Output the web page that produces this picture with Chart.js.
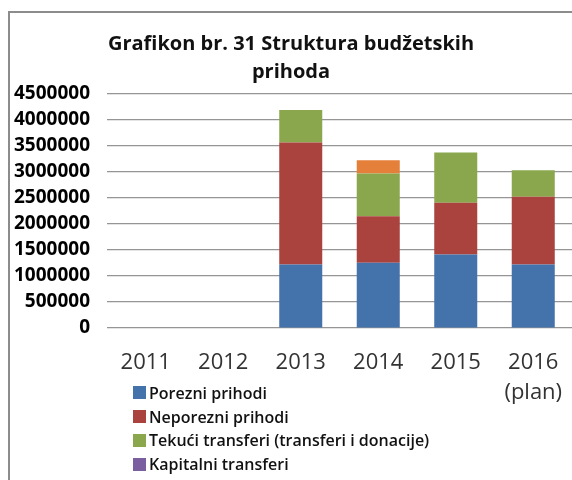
<!DOCTYPE html>
<html>
<head>
<meta charset="utf-8">
<script src="https://cdn.jsdelivr.net/npm/chart.js@4.4.1/dist/chart.umd.min.js"></script>
<style>
  body { margin: 0; background: #fff; width: 572px; height: 480px; overflow: hidden; position: relative; font-family: 'Open Sans', sans-serif; }
  #frame { position: absolute; left: 8px; top: 11px; width: 600px; height: 520px; border: 2px solid #8c8c8c; }
  #chart { position: absolute; left: 0; top: 0; }
  #legend { position: absolute; left: 133px; top: 381px; }
  .item { display: flex; align-items: center; height: 23.8px; font-size: 16px; font-weight: 600; color: #111; white-space: nowrap; }
  .box { width: 13px; height: 13px; margin-right: 3px; }
</style>
</head>
<body>
<div id="frame"></div>
<canvas id="chart" width="572" height="480"></canvas>
<div id="legend"></div>
<script>
// godine (kategorije)
const godine = ['2011', '2012', '2013', '2014', '2015', ['2016', '(plan)']];

// vrijednosti po seriji
const porezni = [0, 0, 1222000, 1253000, 1415000, 1222000];
const neporezni = [0, 0, 2345000, 895000, 995000, 1304000];
const tekuci = [0, 0, 625000, 821000, 964000, 509000];
const kapitalni = [0, 0, 0, 0, 0, 0];
const ostali = [0, 0, 0, 258000, 0, 0];

const naziviSerija = ['Porezni prihodi', 'Neporezni prihodi', 'Tekući transferi (transferi i donacije)', 'Kapitalni transferi', 'Ostali prihodi'];
const boje = ['#4472aa', '#aa423e', '#8aa74e', '#7b5ea0', '#e4803a'];

// y os
const yMax = 4500000;
const yKorak = 500000;

const serije = [porezni, neporezni, tekuci, kapitalni, ostali];

const ctx = document.getElementById('chart').getContext('2d');
const chart = new Chart(ctx, {
    type: 'bar',
    data: {
        labels: godine,
        datasets: serije.map((s, i) => ({
            label: naziviSerija[i],
            data: s,
            backgroundColor: boje[i],
            categoryPercentage: 1,
            barPercentage: 0.555
        }))
    },
    options: {
        responsive: false,
        animation: false,
        layout: { padding: { left: 10, right: 0, top: 30, bottom: 52 } },
        plugins: {
            legend: { display: false },
            tooltip: { enabled: false },
            title: {
                display: true,
                text: ['Grafikon br. 31 Struktura budžetskih', 'prihoda'],
                color: '#111',
                font: { family: 'Open Sans', size: 20, weight: 'bold', lineHeight: 1.4 },
                padding: { top: 0, bottom: 8 }
            }
        },
        scales: {
            x: {
                stacked: true,
                grid: { display: true, drawOnChartArea: false, color: 'rgba(0,0,0,0)', drawTicks: true, tickLength: 20 },
                border: { display: false },
                ticks: {
                    color: '#333',
                    padding: 0,
                    maxRotation: 0,
                    font: { family: 'Open Sans', size: 22, lineHeight: 1.35 }
                },
                afterFit: (s) => { s.height = 100; }
            },
            y: {
                stacked: true,
                min: 0,
                max: yMax,
                border: { display: false },
                grid: { color: '#959595', lineWidth: 1.2, drawTicks: false },
                ticks: {
                    stepSize: yKorak,
                    color: '#000',
                    padding: 17,
                    font: { family: 'Open Sans', size: 19, weight: 'bold' },
                    callback: (v) => String(v)
                },
                afterFit: (s) => { s.width = 97; }
            }
        }
    }
});

// legenda
const leg = document.getElementById('legend');
chart.data.datasets.forEach(ds => {
    const row = document.createElement('div');
    row.className = 'item';
    row.innerHTML = `<span class="box" style="background:${ds.backgroundColor}"></span>${ds.label}`;
    leg.appendChild(row);
});
</script>
</body>
</html>
